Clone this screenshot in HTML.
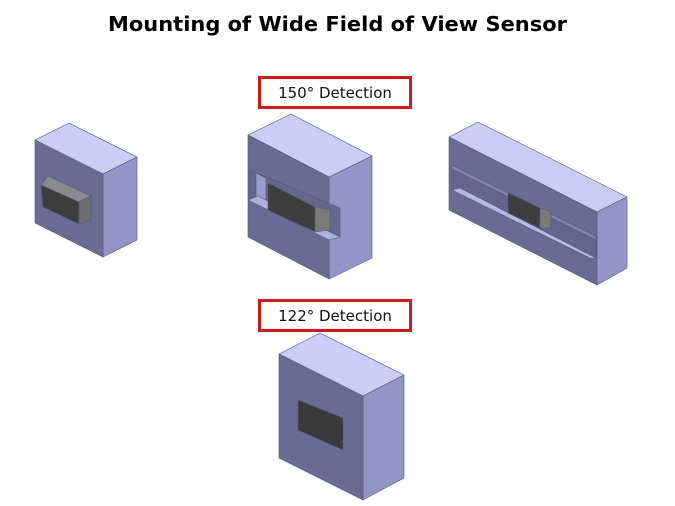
<!DOCTYPE html>
<html><head><meta charset="utf-8"><style>
html,body{margin:0;padding:0;background:#fff;width:675px;height:506px;overflow:hidden}
</style></head><body>
<svg width="675" height="506" viewBox="0 0 675 506" xmlns="http://www.w3.org/2000/svg" font-family="'DejaVu Sans','Liberation Sans',sans-serif">
<text x="108" y="31" font-size="20" font-weight="bold" textLength="459" lengthAdjust="spacingAndGlyphs" fill="#000">Mounting of Wide Field of View Sensor</text>
<rect x="259.5" y="77.5" width="151" height="30" fill="#fff" stroke="#cc1a1a" stroke-width="3"/>
<text x="335" y="98" font-size="15" text-anchor="middle" fill="#111">150° Detection</text>
<rect x="259.5" y="300.5" width="151" height="30" fill="#fff" stroke="#cc1a1a" stroke-width="3"/>
<text x="335" y="321" font-size="15" text-anchor="middle" fill="#111">122° Detection</text>
<g stroke="#55557a" stroke-width="0.6" stroke-linejoin="round">
<!-- cube 1 -->
<polygon points="35,140 69,123 137,157 103,174" fill="#ccccf4"/>
<polygon points="103,174 137,157 137,240 103,257" fill="#9494c6"/>
<polygon points="35,140 103,174 103,257 35,223" fill="#6a6a94"/>
<polygon points="41,185 79,202 79,224 43,207" fill="#3e3e3e"/>
<polygon points="41,185 48,176 91,196 79,202" fill="#8a8a8a"/>
<polygon points="79,202 91,196 91,220 79,224" fill="#6e6e6e"/>
<!-- cube 2 -->
<polygon points="248,135 291,114 372,156 329,177" fill="#ccccf4"/>
<polygon points="329,177 372,156 372,258 329,279" fill="#9494c6"/>
<polygon points="248,135 329,177 329,279 248,237" fill="#6a6a94"/>
<polygon points="250,170 340,208 340,237 250,198" fill="#66668f"/>
<polygon points="256,173 266,178 266,203 256,198" fill="#9a9acb"/>
<polygon points="248,200 258,196 340,237 329,240" fill="#b0b0e0"/>
<polygon points="268,183 315,207 315,232 268,210" fill="#3e3e3e"/>
<polygon points="315,207 330,210 330,230 315,232" fill="#7a7a7a"/>
<!-- cube 3 -->
<polygon points="449,137 478,122 627,197 597,212" fill="#ccccf4"/>
<polygon points="597,212 627,197 627,268 597,285" fill="#9494c6"/>
<polygon points="449,137 597,212 597,285 449,210" fill="#6a6a94"/>
<polygon points="452,165 596,236 596,258 452,190" fill="#64648e"/>
<polygon points="452,190 460,188 596,258 590,258" fill="#b8b8e8"/>
<polygon points="452,165 596,236 596,240 452,169" fill="#8080b0"/>
<polygon points="508,193 540,208 540,228 508,213" fill="#3e3e3e"/>
<polygon points="540,208 551,212 551,228 540,228" fill="#7a7a7a"/>
<!-- cube 4 -->
<polygon points="279,354 320,333 404,375 363,396" fill="#ccccf4"/>
<polygon points="363,396 404,375 404,478 363,500" fill="#9494c6"/>
<polygon points="279,354 363,396 363,500 279,458" fill="#6a6a94"/>
<polygon points="298,400 343,418 343,450 298,430" fill="#3a3a3a"/>
</g>
</svg>
</body></html>
